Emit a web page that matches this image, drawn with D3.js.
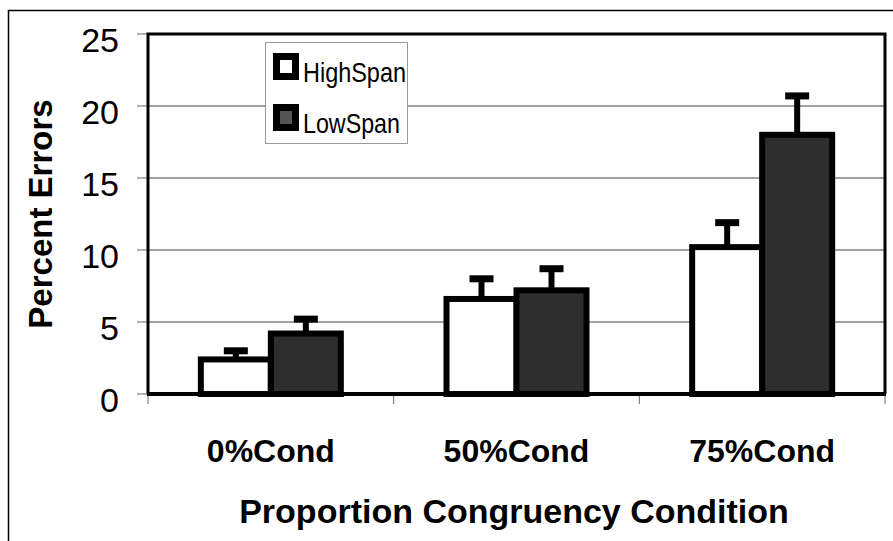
<!DOCTYPE html>
<html>
<head>
<meta charset="utf-8">
<script src="https://cdn.jsdelivr.net/npm/d3@7"></script>
<style>
body { margin: 0; background: #fff; }
text { font-family: "Liberation Sans", Arial, sans-serif; }
</style>
</head>
<body>
<div id="chart"></div>
<script>
var categories = ["0%Cond", "50%Cond", "75%Cond"];
var seriesNames = ["HighSpan", "LowSpan"];
var highSpan = [2.4, 6.6, 10.2];
var highSpanErr = [0.6, 1.4, 1.7];
var lowSpan = [4.2, 7.2, 18.0];
var lowSpanErr = [1.0, 1.5, 2.7];
var yTicks = [0, 5, 10, 15, 20, 25];

var w = 893;
var h = 541;
var pLeft = 148, pRight = 885, pTop = 34, pBottom = 394;
var barW = 70;

var svg = d3.select("#chart")
            .append("svg")
            .attr("width", w)
            .attr("height", h);

// outer frame
svg.append("rect")
    .attr("x", 8.5).attr("y", 10.5)
    .attr("width", w).attr("height", h)
    .attr("fill", "none")
    .attr("stroke", "#000")
    .attr("stroke-width", 1.5);

var x0 = d3.scaleBand().domain(categories).range([pLeft, pRight]);
var x1 = d3.scaleBand().domain(seriesNames).range([-barW, barW]);
var y = d3.scaleLinear().domain([0, 25]).range([pBottom, pTop]);

// gridlines
svg.selectAll("line.grid")
    .data(yTicks.slice(1, 5))
    .enter()
    .append("line")
    .attr("class", "grid")
    .attr("x1", pLeft).attr("x2", pRight)
    .attr("y1", function(d) { return y(d); })
    .attr("y2", function(d) { return y(d); })
    .attr("stroke", "#444")
    .attr("stroke-width", 1);

// y ticks
svg.selectAll("line.ytick")
    .data(yTicks)
    .enter()
    .append("line")
    .attr("x1", pLeft - 11).attr("x2", pLeft)
    .attr("y1", function(d) { return y(d); })
    .attr("y2", function(d) { return y(d); })
    .attr("stroke", "#666")
    .attr("stroke-width", 1);

svg.selectAll("text.ylab")
    .data(yTicks)
    .enter()
    .append("text")
    .attr("x", 119)
    .attr("y", function(d) { return y(d) + 17.5; })
    .attr("text-anchor", "end")
    .style("font-size", "34px")
    .text(function(d) { return d; });

// x ticks at band boundaries
var bounds = categories.map(function(c) { return x0(c); }).concat([pRight]);
svg.selectAll("line.xtick")
    .data(bounds)
    .enter()
    .append("line")
    .attr("x1", function(d) { return d; })
    .attr("x2", function(d) { return d; })
    .attr("y1", pBottom).attr("y2", pBottom + 10)
    .attr("stroke", "#666")
    .attr("stroke-width", 1);

// plot border (top, left, right)
svg.append("path")
    .attr("d", "M" + pLeft + "," + pBottom + "V" + pTop + "H" + pRight + "V" + pBottom)
    .attr("fill", "none")
    .attr("stroke", "#000")
    .attr("stroke-width", 3);

// bars
var rows = [];
categories.forEach(function(c, i) {
    rows.push({cat: c, s: "HighSpan", v: highSpan[i], e: highSpanErr[i]});
    rows.push({cat: c, s: "LowSpan", v: lowSpan[i], e: lowSpanErr[i]});
});

function cx(d) { return x0(d.cat) + x0.bandwidth() / 2 + x1(d.s); }

svg.selectAll("rect.bar")
    .data(rows)
    .enter()
    .append("rect")
    .attr("x", cx)
    .attr("y", function(d) { return y(d.v); })
    .attr("width", x1.bandwidth())
    .attr("height", function(d) { return y(0) - y(d.v); })
    .attr("fill", function(d) { return d.s == "HighSpan" ? "#fff" : "#2e2e2e"; })
    .attr("stroke", "#000")
    .attr("stroke-width", 6);

// error bars
svg.selectAll("line.stem")
    .data(rows)
    .enter()
    .append("line")
    .attr("x1", function(d) { return cx(d) + x1.bandwidth() / 2; })
    .attr("x2", function(d) { return cx(d) + x1.bandwidth() / 2; })
    .attr("y1", function(d) { return y(d.v); })
    .attr("y2", function(d) { return y(d.v + d.e); })
    .attr("stroke", "#000")
    .attr("stroke-width", 6);

svg.selectAll("line.cap")
    .data(rows)
    .enter()
    .append("line")
    .attr("x1", function(d) { return cx(d) + x1.bandwidth() / 2 - 12; })
    .attr("x2", function(d) { return cx(d) + x1.bandwidth() / 2 + 12; })
    .attr("y1", function(d) { return y(d.v + d.e); })
    .attr("y2", function(d) { return y(d.v + d.e); })
    .attr("stroke", "#000")
    .attr("stroke-width", 7);

// x axis line
svg.append("line")
    .attr("x1", pLeft - 1).attr("x2", pRight + 1)
    .attr("y1", pBottom).attr("y2", pBottom)
    .attr("stroke", "#000")
    .attr("stroke-width", 4);

// category labels
svg.selectAll("text.xlab")
    .data(categories)
    .enter()
    .append("text")
    .attr("x", function(d) { return x0(d) + x0.bandwidth() / 2; })
    .attr("y", 462)
    .attr("text-anchor", "middle")
    .style("font-size", "32px")
    .style("font-weight", "bold")
    .text(function(d) { return d; });

// axis titles
svg.append("text")
    .attr("x", 514).attr("y", 523)
    .attr("text-anchor", "middle")
    .style("font-size", "34px")
    .style("font-weight", "bold")
    .text("Proportion Congruency Condition");

svg.append("text")
    .attr("transform", "translate(52,214) rotate(-90)")
    .attr("text-anchor", "middle")
    .style("font-size", "33px")
    .style("font-weight", "bold")
    .text("Percent Errors");

// legend
var lg = svg.append("g");
lg.append("rect")
    .attr("x", 265.5).attr("y", 42.5)
    .attr("width", 142).attr("height", 101)
    .attr("fill", "#fff")
    .attr("stroke", "#999")
    .attr("stroke-width", 1);

lg.selectAll("rect.key")
    .data(seriesNames)
    .enter()
    .append("rect")
    .attr("x", 276.5)
    .attr("y", function(d, i) { return 56.5 + i * 51; })
    .attr("width", 19).attr("height", 20)
    .attr("fill", function(d) { return d == "HighSpan" ? "#fff" : "#555"; })
    .attr("stroke", "#000")
    .attr("stroke-width", 7);

lg.selectAll("text.key")
    .data(seriesNames)
    .enter()
    .append("text")
    .attr("x", 303)
    .attr("y", function(d, i) { return 82 + i * 51; })
    .attr("textLength", function(d) { return d == "HighSpan" ? 103 : 97; })
    .attr("lengthAdjust", "spacingAndGlyphs")
    .style("font-size", "28px")
    .text(function(d) { return d; });
</script>
</body>
</html>
